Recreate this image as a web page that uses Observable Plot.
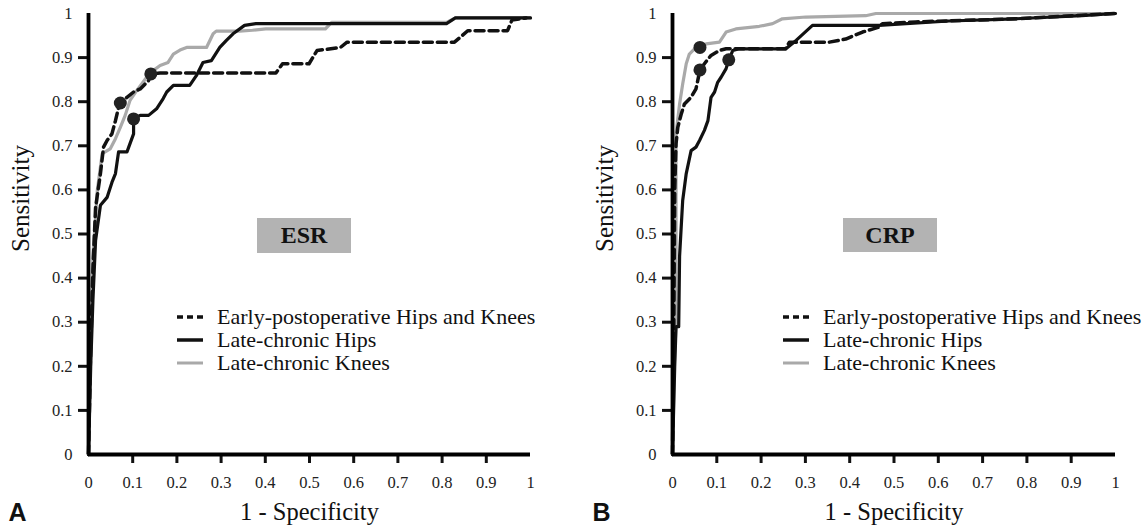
<!DOCTYPE html>
<html><head><meta charset="utf-8">
<script src="https://cdn.jsdelivr.net/npm/d3@7"></script>
<script src="https://cdn.jsdelivr.net/npm/@observablehq/plot@0.6"></script>
<style>
body{margin:0;background:#fff;}
#wrap{position:relative;width:1148px;height:528px;overflow:hidden;font-family:"Liberation Serif",serif;}
.panel{position:absolute;top:0;width:574px;height:528px;}
.box{position:absolute;background:#b3b3b3;font-weight:bold;font-size:24px;color:#111;display:flex;align-items:center;justify-content:center;}
.legend{position:absolute;font-size:22px;color:#111;}
.row{height:23px;display:flex;align-items:center;white-space:nowrap;}
.row svg{margin-right:14px;flex:none;}
</style></head>
<body>
<div id="wrap"></div>
<script>
// ---- data (1 - specificity, sensitivity) ----
const innerTicks = [0.1, 0.2, 0.3, 0.4, 0.5, 0.6, 0.7, 0.8, 0.9];
const endTicks = [0, 1];
const seriesNames = ["Early-postoperative Hips and Knees", "Late-chronic Hips", "Late-chronic Knees"];
const panelNames = ["ESR", "CRP"];
const panelLetters = ["A", "B"];

const esrEarly = [[0,0],[0.004,0.2],[0.01,0.42],[0.016,0.56],[0.027,0.637],[0.034,0.697],[0.042,0.712],[0.053,0.727],[0.061,0.757],[0.068,0.787],[0.072,0.797],[0.087,0.81],[0.102,0.822],[0.117,0.829],[0.136,0.848],[0.141,0.863],[0.162,0.865],[0.424,0.865],[0.439,0.886],[0.499,0.886],[0.517,0.916],[0.57,0.923],[0.585,0.935],[0.828,0.935],[0.858,0.961],[0.948,0.961],[0.958,0.985],[0.99,0.99]];
const esrHips = [[0,0],[0.005,0.2],[0.01,0.35],[0.016,0.485],[0.027,0.565],[0.042,0.583],[0.053,0.617],[0.061,0.637],[0.068,0.686],[0.087,0.686],[0.091,0.697],[0.102,0.727],[0.102,0.761],[0.117,0.769],[0.136,0.769],[0.154,0.784],[0.169,0.807],[0.177,0.822],[0.192,0.837],[0.229,0.837],[0.244,0.859],[0.259,0.889],[0.278,0.893],[0.297,0.923],[0.312,0.939],[0.327,0.954],[0.353,0.973],[0.379,0.977],[0.81,0.977],[0.83,0.99],[1,0.99]];
const esrKnees = [[0,0],[0.004,0.25],[0.01,0.45],[0.02,0.6],[0.031,0.682],[0.049,0.693],[0.061,0.716],[0.072,0.742],[0.083,0.769],[0.094,0.803],[0.109,0.825],[0.132,0.856],[0.147,0.871],[0.162,0.882],[0.18,0.889],[0.192,0.908],[0.207,0.917],[0.222,0.923],[0.267,0.923],[0.282,0.954],[0.289,0.96],[0.342,0.96],[0.371,0.962],[0.401,0.965],[0.536,0.965],[0.55,0.98],[0.81,0.98],[0.83,0.99],[1,0.99]];
const esrCutoffs = [[0.072,0.797],[0.141,0.863],[0.102,0.761]];

const crpEarly = [[0,0],[0.003,0.3],[0.005,0.6],[0.008,0.705],[0.012,0.742],[0.02,0.773],[0.027,0.795],[0.042,0.81],[0.053,0.829],[0.062,0.872],[0.072,0.886],[0.087,0.905],[0.106,0.916],[0.121,0.92],[0.255,0.92],[0.264,0.935],[0.354,0.935],[0.391,0.942],[0.429,0.958],[0.466,0.969],[0.474,0.977],[0.549,0.981],[0.774,0.988],[1,1]];
const crpHips = [[0,0],[0.005,0.2],[0.008,0.29],[0.014,0.29],[0.016,0.45],[0.023,0.576],[0.031,0.637],[0.042,0.689],[0.053,0.697],[0.061,0.712],[0.072,0.735],[0.08,0.757],[0.087,0.81],[0.095,0.822],[0.102,0.844],[0.11,0.856],[0.121,0.875],[0.127,0.895],[0.136,0.916],[0.151,0.92],[0.256,0.92],[0.279,0.939],[0.316,0.973],[0.466,0.973],[0.624,0.983],[0.774,0.988],[0.924,0.995],[1,1]];
const crpKnees = [[0,0],[0.004,0.2],[0.008,0.3],[0.008,0.6],[0.008,0.727],[0.016,0.795],[0.023,0.84],[0.031,0.886],[0.038,0.908],[0.053,0.923],[0.062,0.923],[0.076,0.931],[0.106,0.935],[0.121,0.958],[0.143,0.965],[0.196,0.971],[0.226,0.977],[0.248,0.988],[0.301,0.992],[0.436,0.995],[0.459,1],[1,1]];
const crpCutoffs = [[0.062,0.923],[0.062,0.872],[0.127,0.895]];

// ---- drawing ----
const GRAY = "#a9a9a9";
const SERIF = "Liberation Serif";
const fmt = d => String(d);
const X = d => d[0], Y = d => d[1];

function panel(early, hips, knees, cutoffs, letter, ml, mr) {
  const tickText = {fontSize: 16.5, fill: "#222", fontFamily: SERIF, tickFormat: fmt, label: null};
  return Plot.plot({
    width: 574, height: 528,
    marginLeft: ml, marginRight: mr, marginTop: 13, marginBottom: 74,
    x: {domain: [0, 1]}, y: {domain: [0, 1]},
    style: {background: "transparent", color: "#111"},
    marks: [
      Plot.axisY(innerTicks, {...tickText, tickSize: 10, tickPadding: 6, strokeWidth: 3}),
      Plot.axisY(endTicks, {...tickText, tickSize: 0, tickPadding: 16}),
      Plot.axisX(innerTicks, {...tickText, tickSize: 9, tickPadding: 13, strokeWidth: 3}),
      Plot.axisX(endTicks, {...tickText, tickSize: 0, tickPadding: 22}),
      Plot.line(knees, {x: X, y: Y, stroke: GRAY, strokeWidth: 3.2}),
      Plot.line(hips, {x: X, y: Y, stroke: "#111", strokeWidth: 3.2}),
      Plot.line(early, {x: X, y: Y, stroke: "#111", strokeWidth: 3.5, strokeDasharray: "9,5"}),
      Plot.ruleX([0], {strokeWidth: 3.8, stroke: "#000"}),
      Plot.ruleY([0], {strokeWidth: 3.8, stroke: "#000"}),
      Plot.dot(cutoffs, {x: X, y: Y, r: 6.5, fill: "#222", stroke: null}),
      Plot.text(["Sensitivity"], {frameAnchor: "left", rotate: -90, dx: -68, dy: 18, fontSize: 25, fill: "#111", fontFamily: SERIF}),
      Plot.text(["1 - Specificity"], {frameAnchor: "bottom", dy: 65, fontSize: 24.5, fill: "#111", fontFamily: SERIF}),
      Plot.text([letter], {frameAnchor: "bottom-left", dx: -80, dy: 66, textAnchor: "start", lineAnchor: "bottom", fontFamily: "Liberation Sans", fontWeight: "bold", fontSize: 25, fill: "#111"})
    ]
  });
}

const wrap = document.getElementById("wrap");
const panels = [
  {el: panel(esrEarly, esrHips, esrKnees, esrCutoffs, panelLetters[0], 88, 44), left: 0, box: [257, 218, 94, 35], legend: [177, 305.5], name: panelNames[0]},
  {el: panel(crpEarly, crpHips, crpKnees, crpCutoffs, panelLetters[1], 98, 33), left: 574, box: [843, 218, 94, 34], legend: [783, 305.5], name: panelNames[1]}
];

function sample(kind) {
  const s = kind === 0 ? `stroke="#111" stroke-width="3.5" stroke-dasharray="6,4"`
          : kind === 1 ? `stroke="#111" stroke-width="3.5"` : `stroke="${GRAY}" stroke-width="3"`;
  return `<svg width="26" height="10"><line x1="0" x2="26" y1="5" y2="5" ${s}/></svg>`;
}

for (const p of panels) {
  const d = document.createElement("div");
  d.className = "panel"; d.style.left = p.left + "px";
  d.appendChild(p.el);
  wrap.appendChild(d);
  const b = document.createElement("div");
  b.className = "box";
  b.style.left = p.box[0] + "px"; b.style.top = p.box[1] + "px";
  b.style.width = p.box[2] + "px"; b.style.height = p.box[3] + "px";
  b.textContent = p.name;
  wrap.appendChild(b);
  const lg = document.createElement("div");
  lg.className = "legend";
  lg.style.left = p.legend[0] + "px"; lg.style.top = p.legend[1] + "px";
  lg.innerHTML = seriesNames.map((n, i) => `<div class="row">${sample(i)}<span>${n}</span></div>`).join("");
  wrap.appendChild(lg);
}
</script>
</body></html>
